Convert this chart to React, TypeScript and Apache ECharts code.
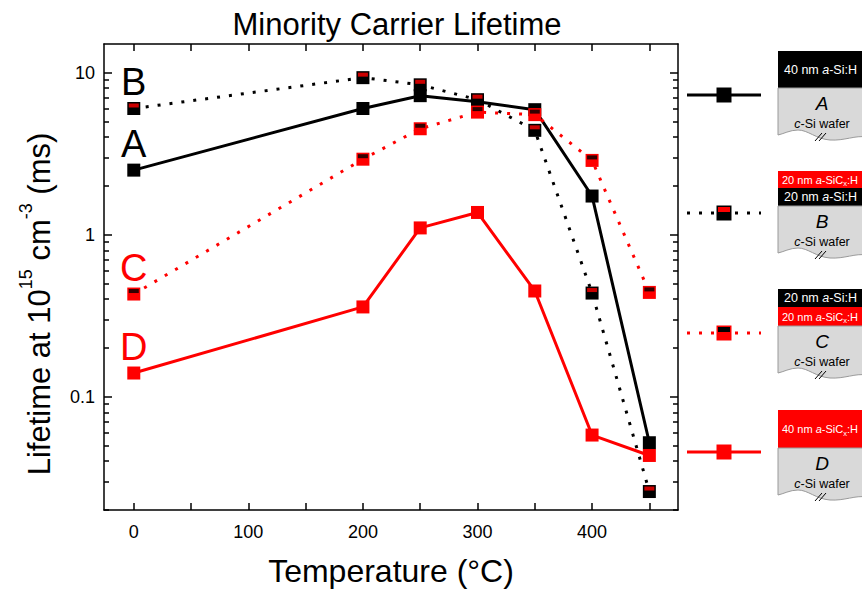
import React, { useEffect, useRef } from 'react';
import * as echarts from 'echarts';

// ---- data ----
const temperatures = [0, 200, 250, 300, 350, 400, 450];
const lifetimeA = [2.5, 6.0, 7.2, 6.6, 5.9, 1.73, 0.052];
const lifetimeB = [6.0, 9.3, 8.4, 6.8, 4.4, 0.436, 0.026];
const lifetimeC = [0.43, 2.92, 4.5, 5.7, 5.5, 2.87, 0.44];
const lifetimeD = [0.14, 0.358, 1.1, 1.37, 0.449, 0.058, 0.0434];

const xTickValues = [0, 50, 100, 150, 200, 250, 300, 350, 400, 450];
const xLabelValues = [0, 100, 200, 300, 400];
const yMajorValues = [0.1, 1, 10];
const yMinorValues = [
  0.02, 0.03, 0.04, 0.05, 0.06, 0.07, 0.08, 0.09,
  0.2, 0.3, 0.4, 0.5, 0.6, 0.7, 0.8, 0.9,
  2, 3, 4, 5, 6, 7, 8, 9,
];
const seriesLetters = ['A', 'B', 'C', 'D'];

const FONT = '"Liberation Sans", Arial, Helvetica, sans-serif';
const BLACK = '#000000';
const RED = '#ff0000';

let shapeRegistered = false;
function registerWafer() {
  if (shapeRegistered) return;
  shapeRegistered = true;
  const d =
    'M0,0 L88,0 L88,49 C78,47 66,53 52,52 C38,51 30,42 20,42 C12,42 5,46 0,47 Z';
  echarts.graphic.registerShape('wafer', echarts.graphic.extendPath(d, {}) as any);
}

const pairs = (vals: number[]) => temperatures.map((t, i) => [t, vals[i]]);

function lineSeries(
  letter: string,
  vals: number[],
  lineColor: string,
  markerColor: string,
  dotted: boolean,
  z: number
) {
  return {
    type: 'line',
    name: letter,
    data: pairs(vals).map((v, i) =>
      i === 0
        ? {
            value: v,
            label: {
              show: true,
              formatter: letter,
              position: 'top',
              distance: 1,
              fontSize: 38,
              fontFamily: FONT,
              color: lineColor,
            },
          }
        : { value: v }
    ),
    symbol: 'rect',
    symbolSize: 13,
    showSymbol: true,
    z,
    lineStyle: {
      color: lineColor,
      width: 3,
      type: dotted ? [3, 9] : 'solid',
      cap: 'butt',
    },
    itemStyle: { color: markerColor, borderColor: markerColor, borderWidth: 0 },
    label: { show: false },
    emphasis: { disabled: true },
  };
}

function stripeSeries(vals: number[], color: string, z: number) {
  return {
    type: 'scatter',
    data: pairs(vals),
    symbol: 'rect',
    symbolSize: [10, 4],
    symbolOffset: [0, -3],
    itemStyle: { color },
    z,
    silent: true,
    emphasis: { disabled: true },
  };
}

// ---- right-hand legend (layer stacks) ----
type Layer = { color: string; text: string; h: number; size: number };
const stacks: { letter: string; top: number; lineY: number; dotted: boolean; lineColor: string; marker: string; stripe: string | null; layers: Layer[] }[] = [
  {
    letter: 'A', top: 51, lineY: 95, dotted: false, lineColor: BLACK, marker: BLACK, stripe: null,
    layers: [{ color: BLACK, text: '40 nm {i|a}-Si:H', h: 37, size: 12.5 }],
  },
  {
    letter: 'B', top: 171, lineY: 213, dotted: true, lineColor: BLACK, marker: BLACK, stripe: RED,
    layers: [
      { color: RED, text: '20 nm {i|a}-SiC{s|x}:H', h: 17, size: 11 },
      { color: BLACK, text: '20 nm {i|a}-Si:H', h: 18, size: 12.5 },
    ],
  },
  {
    letter: 'C', top: 289, lineY: 333, dotted: true, lineColor: RED, marker: RED, stripe: BLACK,
    layers: [
      { color: BLACK, text: '20 nm {i|a}-Si:H', h: 18, size: 12.5 },
      { color: RED, text: '20 nm {i|a}-SiC{s|x}:H', h: 19, size: 11 },
    ],
  },
  {
    letter: 'D', top: 410, lineY: 452, dotted: false, lineColor: RED, marker: RED, stripe: null,
    layers: [{ color: RED, text: '40 nm {i|a}-SiC{s|x}:H', h: 38, size: 11 }],
  },
];

function buildLegendGraphics() {
  const els: any[] = [];
  const bx = 778;
  const bw = 88;
  const cx = 822;
  stacks.forEach((s) => {
    els.push({
      type: 'line',
      shape: { x1: 687, y1: s.lineY, x2: 761, y2: s.lineY },
      style: { stroke: s.lineColor, lineWidth: 3, lineDash: s.dotted ? [3, 9] : null },
      silent: true,
    });
    els.push({
      type: 'rect',
      shape: { x: 716.5, y: s.lineY - 7.5, width: 15, height: 15 },
      style: { fill: s.marker, stroke: s.marker, lineWidth: 0 },
      z: 10,
      silent: true,
    });
    if (s.stripe) {
      els.push({
        type: 'rect',
        shape: { x: 718, y: s.lineY - 6, width: 12, height: 5 },
        style: { fill: s.stripe },
        z: 11,
        silent: true,
      });
    }
    let y = s.top;
    s.layers.forEach((l) => {
      els.push({
        type: 'rect',
        shape: { x: bx, y, width: bw, height: l.h },
        style: { fill: l.color },
        silent: true,
      });
      els.push({
        type: 'text',
        x: l.size < 12 ? 782 : 784,
        y: y + l.h / 2,
        style: {
          text: l.text,
          fill: '#ffffff',
          fontSize: l.size,
          fontFamily: FONT,
          lineHeight: 16,
          align: 'left',
          verticalAlign: 'middle',
          rich: {
            i: { fontStyle: 'italic', fontSize: l.size, fontFamily: FONT, fill: '#ffffff', lineHeight: 16 },
            s: { fontSize: 7.5, fontFamily: FONT, fill: '#ffffff', lineHeight: 8, verticalAlign: 'bottom' },
          },
        },
        z: 5,
        silent: true,
      });
      y += l.h;
    });
    els.push({
      type: 'wafer',
      x: bx,
      y,
      shape: {},
      style: { fill: '#d9d9d9', stroke: '#9a9a9a', lineWidth: 1 },
      silent: true,
    });
    els.push({
      type: 'text',
      x: cx,
      y: y + 15.5,
      style: {
        text: s.letter,
        fill: BLACK,
        fontSize: 19,
        fontStyle: 'italic',
        fontFamily: FONT,
        align: 'center',
        verticalAlign: 'middle',
      },
      z: 5,
      silent: true,
    });
    els.push({
      type: 'text',
      x: cx,
      y: y + 36,
      style: {
        text: '{i|c}-Si wafer',
        fill: BLACK,
        fontSize: 12.5,
        fontFamily: FONT,
        align: 'center',
        verticalAlign: 'middle',
        rich: { i: { fontStyle: 'italic', fontSize: 12.5, fontFamily: FONT, fill: BLACK } },
      },
      z: 5,
      silent: true,
    });
    els.push({
      type: 'line',
      shape: { x1: 815, y1: y + 53, x2: 822, y2: y + 45 },
      style: { stroke: BLACK, lineWidth: 1 },
      z: 6,
      silent: true,
    });
    els.push({
      type: 'line',
      shape: { x1: 819, y1: y + 53, x2: 826, y2: y + 45 },
      style: { stroke: BLACK, lineWidth: 1 },
      z: 6,
      silent: true,
    });
  });
  return els;
}

export default function App() {
  const ref = useRef<HTMLDivElement>(null);

  useEffect(() => {
    if (!ref.current) return;
    registerWafer();
    const chart = echarts.init(ref.current, null, { renderer: 'svg' });

    const axisLine = { show: true, onZero: false, lineStyle: { color: BLACK, width: 1.5 } };
    const noLine = { show: false, onZero: false };
    const tickStyle = { color: BLACK, width: 1.5 };

    const xBase = { type: 'value', min: -26, max: 475, splitLine: { show: false } };
    const yBase = { type: 'log', logBase: 10, min: 0.02, max: 15, splitLine: { show: false } };

    const option: any = {
      animation: false,
      backgroundColor: '#ffffff',
      title: {
        text: 'Minority Carrier Lifetime',
        left: 392,
        top: 4,
        textAlign: 'center',
        textStyle: { fontSize: 31, fontWeight: 'normal', color: BLACK, fontFamily: FONT },
      },
      grid: { left: 104, right: 184, top: 44, bottom: 80, containLabel: false },
      xAxis: [
        {
          ...xBase,
          position: 'bottom',
          axisLine,
          axisTick: { show: true, inside: true, length: 7, customValues: xTickValues, lineStyle: tickStyle },
          axisLabel: { show: true, customValues: xLabelValues, fontSize: 18, color: BLACK, margin: 13, fontFamily: FONT },
          name: 'Temperature (°C)',
          nameLocation: 'middle',
          nameGap: 45,
          nameTextStyle: { fontSize: 32, color: BLACK, fontFamily: FONT },
        },
        {
          ...xBase,
          position: 'top',
          axisLine,
          axisTick: { show: true, inside: true, length: 7, customValues: xTickValues, lineStyle: tickStyle },
          axisLabel: { show: false },
        },
      ],
      yAxis: [
        {
          ...yBase,
          position: 'left',
          axisLine,
          axisTick: { show: true, inside: true, length: 8, customValues: yMajorValues, lineStyle: tickStyle },
          axisLabel: { show: true, customValues: yMajorValues, fontSize: 18, color: BLACK, margin: 9, fontFamily: FONT },
        },
        {
          ...yBase,
          position: 'left',
          axisLine: noLine,
          axisTick: { show: true, inside: true, length: 5, customValues: yMinorValues, lineStyle: tickStyle },
          axisLabel: { show: false },
        },
        {
          ...yBase,
          position: 'right',
          axisLine,
          axisTick: { show: true, inside: true, length: 8, customValues: yMajorValues, lineStyle: tickStyle },
          axisLabel: { show: false },
        },
        {
          ...yBase,
          position: 'right',
          axisLine: noLine,
          axisTick: { show: true, inside: true, length: 5, customValues: yMinorValues, lineStyle: tickStyle },
          axisLabel: { show: false },
        },
      ],
      series: [
        lineSeries(seriesLetters[0], lifetimeA, BLACK, BLACK, false, 2),
        lineSeries(seriesLetters[1], lifetimeB, BLACK, BLACK, true, 3),
        stripeSeries(lifetimeB, RED, 4),
        lineSeries(seriesLetters[2], lifetimeC, RED, RED, true, 5),
        stripeSeries(lifetimeC, BLACK, 6),
        lineSeries(seriesLetters[3], lifetimeD, RED, RED, false, 7),
      ],
      graphic: [
        {
          type: 'text',
          x: 39,
          y: 304,
          rotation: Math.PI / 2,
          style: {
            text: '{m|Lifetime at 10}{s|15}{m| cm}{s|-3}{m| (ms)}',
            fill: BLACK,
            align: 'center',
            verticalAlign: 'middle',
            fontFamily: FONT,
            fontSize: 31,
            rich: {
              m: { fontSize: 31, fontFamily: FONT, fill: BLACK, lineHeight: 44 },
              s: { fontSize: 18, fontFamily: FONT, fill: BLACK, lineHeight: 18, verticalAlign: 'top' },
            },
          },
          silent: true,
        },
        ...buildLegendGraphics(),
      ],
    };

    chart.setOption(option);
    return () => chart.dispose();
  }, []);

  return (
    <div
      ref={ref}
      style={{ position: 'absolute', left: 0, top: 0, width: 862, height: 592, background: '#fff' }}
    />
  );
}
